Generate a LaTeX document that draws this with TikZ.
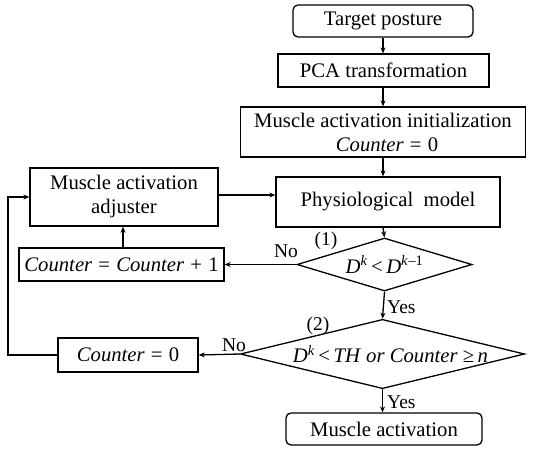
\documentclass[tikz,border=0pt]{standalone}
\usepackage{fontspec}
\setmainfont{Liberation Serif}
\usetikzlibrary{shapes.geometric,arrows.meta}
\tikzset{
  base/.style={draw, line width=1.3pt, font=\fontsize{20.7}{24}\selectfont, inner sep=0pt, align=center},
  procbox/.style={base, rectangle},
  termbox/.style={base, rectangle, rounded corners=5pt},
  decision/.style={base, diamond},
  flow/.style={line width=1.3pt, -{Stealth[length=6pt,width=5pt]}},
  tag/.style={font=\fontsize{19.5}{22}\selectfont, inner sep=0pt}
}
\newcommand{\var}[1]{\textit{#1}}
\newcommand{\gap}{\ \kern1pt}
\begin{document}
\begin{tikzpicture}[x=1pt,y=-1pt]
\useasboundingbox (0,0) rectangle (537,453);

% main column
\node[termbox, minimum width=180, minimum height=32] (target) at (383,21) {Target posture};
\node[procbox, minimum width=211, minimum height=33] (pca) at (383.5,70.5) {PCA transformation};
\node[procbox, minimum width=285, minimum height=50] (init) at (383,132)
  {Muscle activation initialization\\ \hspace*{8pt}\var{Counter}\gap=\gap0};
\node[procbox, minimum width=224, minimum height=50] (phys) at (388,202) {Physiological\ \ model};
\node[decision, aspect=3.3, minimum width=175, minimum height=53] (d1) at (384.5,264.5)
  {\raisebox{-3pt}{\var{D}\textsuperscript{\var{k}}\,<\,\var{D}\textsuperscript{\var{k}\kern.5pt–1}}};
\node[decision, aspect=4.1, minimum width=279, minimum height=68] (d2) at (382.5,354)
  {\raisebox{-4pt}{\hspace*{16pt}\var{D}\textsuperscript{\var{k}}\,<\,\var{TH}\ \var{or}\ \var{Counter}\ ≥\,\var{n}}};
\node[termbox, minimum width=196, minimum height=32] (muscle) at (384,429) {Muscle activation};

% side column
\node[procbox, minimum width=188, minimum height=58] (adj) at (124,197)
  {Muscle activation\\ adjuster};
\node[procbox, minimum width=205, minimum height=33] (cplus) at (121.5,264.5)
  {\var{Counter}\gap=\gap\var{Counter}\gap+\gap1};
\node[procbox, minimum width=140, minimum height=34] (czero) at (128,355)
  {\var{Counter}\gap=\gap0};

\coordinate (spine) at (383,0);
\coordinate (upleft) at (123,0);
\coordinate (loop) at (8,355);

% connectors
\draw[flow] (target.south -| spine) -- (pca.north -| spine);
\draw[flow] (pca.south -| spine) -- (init.north -| spine);
\draw[flow] (init.south -| spine) -- (phys.north -| spine);
\draw[flow] (phys.south -| spine) -- (d1.north);
\draw[flow] (d1.south) -- (d2.north);
\draw[flow] (d2.south) -- (muscle.north -| d2.south);
\draw[flow] (d1.west) -- (cplus.east);
\draw[flow] (cplus.north -| upleft) -- (adj.south -| upleft);
\draw[flow] ([yshift=2pt]adj.east) -- ([yshift=2pt]adj.east -| phys.west);
\draw[flow] (d2.west) -- (czero.east);
\draw[flow] (czero.west) -- (loop) |- (adj.west);

% branch labels
\node[tag] at (286,251) {No};
\node[tag] at (326,241) {(1)};
\node[tag, anchor=west] at (387,307) {Yes};
\node[tag] at (234,345) {No};
\node[tag] at (318,326) {(2)};
\node[tag, anchor=west] at (387,402) {Yes};
\end{tikzpicture}
\end{document}
